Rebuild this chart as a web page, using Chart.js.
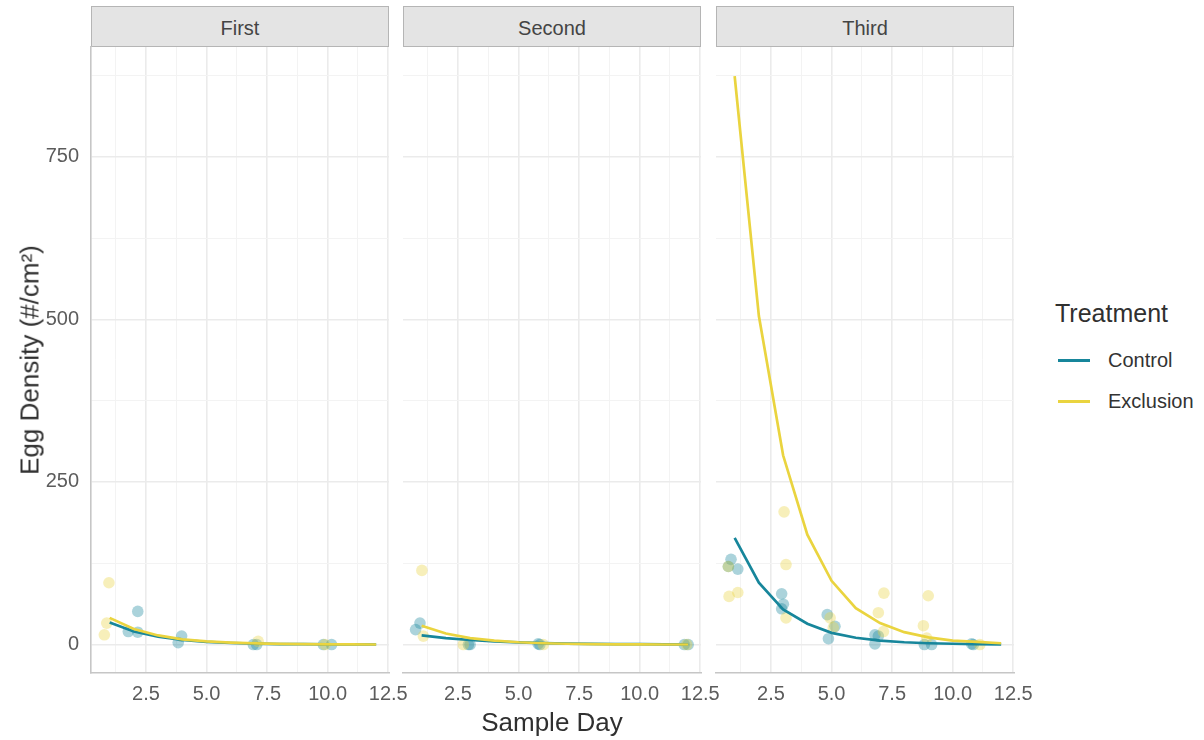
<!DOCTYPE html>
<html>
<head>
<meta charset="utf-8">
<title>Egg Density by Sample Day</title>
<script src="https://cdn.jsdelivr.net/npm/chart.js@4.4.1/dist/chart.umd.min.js"></script>
<style>
  body { margin: 0; background: #fff; width: 1204px; height: 740px; overflow: hidden; position: relative;
         font-family: "Liberation Sans", Arial, sans-serif; }
  canvas { position: absolute; }
  .strip { position: absolute; top: 6px; height: 41px; width: 298px; background: #e4e4e4;
           border: 1.5px solid #b5b5b5; box-sizing: border-box; display: flex; align-items: center;
           justify-content: center; font-size: 20px; color: #444; padding-top: 3px; }
  .title { position: absolute; font-size: 26px; color: #303030; white-space: nowrap; }
  .legend-title { position: absolute; left: 1055px; top: 299px; font-size: 25px; color: #303030; }
  .legend-item { position: absolute; left: 1058px; height: 30px; display: flex; align-items: center;
                 font-size: 20px; color: #333; }
  .legend-item span.sw { display: inline-block; width: 32px; height: 3px; margin-right: 18px; }
</style>
</head>
<body>
<div class="strip" style="left:91px">First</div>
<div class="strip" style="left:403px">Second</div>
<div class="strip" style="left:716px">Third</div>

<canvas id="c1"></canvas>
<canvas id="c2"></canvas>
<canvas id="c3"></canvas>

<div class="title" style="left:552px; top:722px; transform:translate(-50%,-50%)">Sample Day</div>
<div class="title" style="left:30px; top:360px; transform:translate(-50%,-50%) rotate(-90deg)">Egg Density (#/cm²)</div>

<div class="legend-title">Treatment</div>
<div class="legend-item" style="top:345px"><span class="sw" style="background:#17869b"></span>Control</div>
<div class="legend-item" style="top:386px"><span class="sw" style="background:#ead43f"></span>Exclusion</div>

<script>
// Treatments and fitted-curve days
const treatments = ["Control", "Exclusion"];
const fitDays = [1, 2, 3, 4, 5, 6, 7, 8, 9, 10, 11, 12];

// Fitted egg density curves per trial
const firstControlFit    = [34, 20, 12, 7, 4, 2.4, 1.4, 0.8, 0.5, 0.3, 0.2, 0.1];
const firstExclusionFit  = [41, 24, 14, 8, 5, 3, 1.7, 1, 0.6, 0.3, 0.2, 0.1];
const secondControlFit   = [14, 10, 7, 4.7, 3.2, 2.2, 1.5, 1, 0.7, 0.5, 0.3, 0.2];
const secondExclusionFit = [29, 17, 10, 6, 3.5, 2, 1.2, 0.7, 0.4, 0.2, 0.1, 0.1];
const thirdControlFit    = [164, 95, 54, 32, 18, 10.5, 6, 3.5, 2, 1.2, 0.7, 0.4];
const thirdExclusionFit  = [874, 505, 291, 169, 98, 56, 33, 19, 11, 6, 4, 2];

// Observed samples (jittered day, density)
const firstControlDay    = [1.77, 2.16, 2.16, 3.83, 3.97, 6.93, 7.07, 9.82, 10.16];
const firstControlEggs   = [20, 51, 19, 3, 13, 0, 0, 0, 0];
const firstExclusionDay  = [0.78, 0.88, 0.97, 7.13, 9.89];
const firstExclusionEggs = [15, 33, 95, 5, 0];

const secondControlDay    = [0.75, 0.93, 2.93, 3.0, 5.81, 5.88, 11.84, 12.0];
const secondControlEggs   = [23, 33, 0, 0, 1, 0, 0, 0];
const secondExclusionDay  = [1.01, 1.07, 2.72, 6.02, 11.94];
const secondExclusionEggs = [114, 13, 0, 0, 0];

const thirdControlDay    = [0.74, 0.85, 1.13, 2.94, 3.01, 2.94, 4.82, 5.14, 4.87, 6.79, 6.93, 6.79, 8.83, 9.13, 10.78, 10.85];
const thirdControlEggs   = [120, 131, 116, 78, 62, 55, 46, 28, 9, 15, 13, 1, 0, 0, 1, 0];
const thirdExclusionDay  = [0.74, 0.77, 1.13, 3.04, 3.12, 3.12, 4.94, 5.07, 7.16, 6.93, 7.14, 8.99, 8.79, 8.93, 11.12];
const thirdExclusionEggs = [120, 74, 80, 204, 123, 41, 41, 26, 79, 49, 20, 75, 29, 10, 0];

// Axis ticks (major labelled, minor unlabelled)
const yTicks = [0, 125, 250, 375, 500, 625, 750, 875];
const yMajor = [0, 250, 500, 750];
const xTicks = [1.25, 2.5, 3.75, 5, 6.25, 7.5, 8.75, 10, 11.25, 12.5];
const xMajor = [2.5, 5, 7.5, 10, 12.5];

const TEAL = "#17869b", TEAL_PT = "rgba(23,134,155,0.36)";
const GOLD = "#ead43f", GOLD_PT = "rgba(234,212,63,0.36)";

const zip = (xs, ys) => xs.map((x, i) => ({ x, y: ys[i] }));

function makePanel(id, box, showY, fits, pts) {
  const cv = document.getElementById(id);
  cv.style.left = box.left + "px";
  cv.style.top = "40px";
  cv.width = box.width;
  cv.height = 663;
  cv.style.width = box.width + "px";
  cv.style.height = "663px";

  const pointSet = (data, color, order) => ({
    type: "scatter", data, backgroundColor: color, borderWidth: 0,
    pointRadius: 5.8, pointHoverRadius: 5.8, order
  });
  const lineSet = (data, color, order) => ({
    type: "scatter", data, showLine: true, borderColor: color, borderWidth: 2.7,
    pointRadius: 0, fill: false, tension: 0, order
  });

  new Chart(cv, {
    type: "scatter",
    data: {
      datasets: [
        lineSet(zip(fitDays, fits[1]), GOLD, 0),
        lineSet(zip(fitDays, fits[0]), TEAL, 1),
        pointSet(zip(pts[2], pts[3]), GOLD_PT, 2),
        pointSet(zip(pts[0], pts[1]), TEAL_PT, 3)
      ]
    },
    options: {
      responsive: false,
      animation: false,
      devicePixelRatio: 1,
      layout: { padding: { left: box.padL, right: 20, top: 7, bottom: 0 } },
      plugins: { legend: { display: false }, tooltip: { enabled: false } },
      scales: {
        x: {
          type: "linear", min: 0.23, max: 12.53,
          afterBuildTicks: s => { s.ticks = xTicks.map(v => ({ value: v })); },
          afterFit: s => { s.height = 30; s.paddingLeft = 0; s.paddingRight = 0; },
          grid: {
            drawTicks: false,
            color: c => xMajor.includes(c.tick && c.tick.value) ? "#ebebeb" : "#f3f3f3",
            lineWidth: c => xMajor.includes(c.tick && c.tick.value) ? 1.6 : 1
          },
          border: { display: true, color: "#c6c6c6", width: 1.6 },
          ticks: {
            autoSkip: false, maxRotation: 0, padding: 9, color: "#5c5c5c",
            font: { family: "'Liberation Sans', Arial, sans-serif", size: 20 },
            callback: v => xMajor.includes(v) ? v.toFixed(1) : ""
          }
        },
        y: {
          type: "linear", min: -43.75, max: 918.75,
          afterBuildTicks: s => { s.ticks = yTicks.map(v => ({ value: v })); },
          afterFit: s => { s.width = box.yWidth; s.paddingTop = 0; s.paddingBottom = 0; },
          grid: {
            drawTicks: false,
            color: c => yMajor.includes(c.tick && c.tick.value) ? "#ebebeb" : "#f3f3f3",
            lineWidth: c => yMajor.includes(c.tick && c.tick.value) ? 1.6 : 1
          },
          border: { display: showY, color: "#c6c6c6", width: 1.6 },
          ticks: {
            display: showY, padding: 12, color: "#5c5c5c",
            font: { family: "'Liberation Sans', Arial, sans-serif", size: 20 },
            callback: v => yMajor.includes(v) ? String(v) : ""
          }
        }
      }
    }
  });
}

makePanel("c1", { left: 0, width: 409, padL: 0, yWidth: 91 }, true,
  [firstControlFit, firstExclusionFit],
  [firstControlDay, firstControlEggs, firstExclusionDay, firstExclusionEggs]);
makePanel("c2", { left: 383, width: 338, padL: 20, yWidth: 0 }, false,
  [secondControlFit, secondExclusionFit],
  [secondControlDay, secondControlEggs, secondExclusionDay, secondExclusionEggs]);
makePanel("c3", { left: 696, width: 338, padL: 20, yWidth: 0 }, false,
  [thirdControlFit, thirdExclusionFit],
  [thirdControlDay, thirdControlEggs, thirdExclusionDay, thirdExclusionEggs]);
</script>
</body>
</html>
